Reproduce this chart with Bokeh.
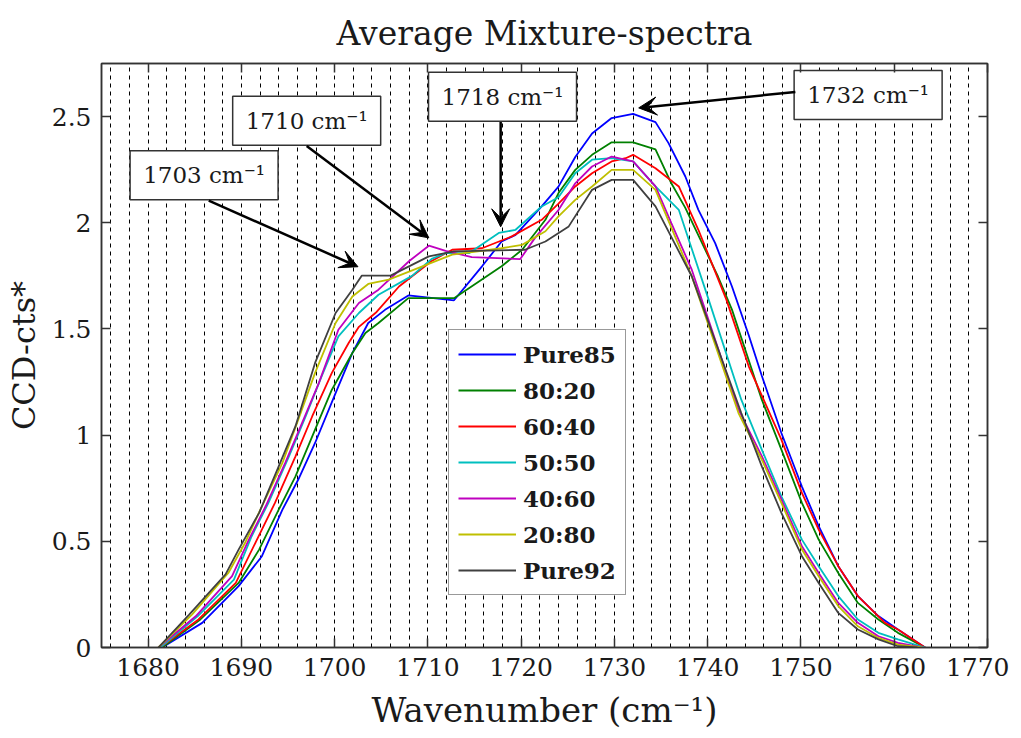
from bokeh.plotting import figure
from bokeh.models import (Range1d, LinearAxis, FixedTicker, Legend, LegendItem,
                          Arrow, VeeHead, NumeralTickFormatter, ColumnDataSource,
                          CustomJSTickFormatter)
from bokeh.embed import file_html
from bokeh.resources import INLINE
from bokeh.core.properties import value

# ---------------- data ----------------
series_names = ["Pure85", "80:20", "60:40", "50:50", "40:60", "20:80", "Pure92"]
series_colors = ["#0000FF", "#008000", "#FF0000", "#00BFBF", "#BF00BF", "#BFBF00", "#404040"]

x_pure85 = [1681.5, 1685.8, 1689.7, 1692.2, 1694.4, 1696.1, 1697.9, 1700.1, 1701.9, 1703.6,
            1705.4, 1707.9, 1712.8, 1715.8, 1717.9, 1719.4, 1722.2, 1724.0, 1725.8, 1727.6,
            1729.7, 1732.0, 1734.4, 1735.8, 1737.6, 1739.0, 1740.8, 1742.6, 1744.4, 1745.8,
            1747.9, 1750.1, 1751.9, 1754.0, 1756.1, 1758.3, 1760.4, 1763.3]
y_pure85 = [0, 0.116, 0.289, 0.430, 0.649, 0.791, 0.963, 1.198, 1.387, 1.528,
            1.59, 1.658, 1.635, 1.795, 1.912, 1.943, 2.077, 2.17, 2.31, 2.42,
            2.493, 2.513, 2.474, 2.375, 2.218, 2.061, 1.904, 1.70, 1.47, 1.28,
            1.01, 0.758, 0.571, 0.383, 0.242, 0.148, 0.085, 0]

x_8020 = [1681.5, 1685.6, 1689.7, 1691.9, 1694.0, 1695.8, 1697.9, 1699.7, 1701.9, 1703.3,
          1704.7, 1707.9, 1712.8, 1717.9, 1720.1, 1722.6, 1724.0, 1725.8, 1727.6, 1729.7,
          1732.0, 1734.4, 1736.1, 1737.6, 1741.1, 1742.6, 1745.8, 1747.9, 1750.1, 1751.9,
          1754.0, 1756.1, 1758.3, 1760.4, 1763.3]
y_8020 = [0, 0.132, 0.304, 0.461, 0.649, 0.806, 1.026, 1.214, 1.387, 1.481,
          1.528, 1.645, 1.645, 1.795, 1.873, 2.014, 2.14, 2.249, 2.32, 2.379,
          2.379, 2.346, 2.186, 2.07, 1.747, 1.591, 1.167, 0.932, 0.681, 0.508,
          0.351, 0.210, 0.132, 0.069, 0]

x_6040 = [1681.3, 1685.4, 1689.4, 1691.5, 1693.6, 1695.8, 1697.6, 1699.7, 1701.5, 1702.6,
          1704.5, 1706.9, 1710.4, 1712.6, 1715.8, 1719.0, 1722.2, 1724.0, 1725.8, 1727.6,
          1729.7, 1731.2, 1732.0, 1734.4, 1736.9, 1739.0, 1742.0, 1744.4, 1747.9, 1750.1,
          1751.9, 1754.0, 1756.1, 1759.0, 1760.4, 1763.3]
y_6040 = [0, 0.132, 0.304, 0.493, 0.681, 0.900, 1.089, 1.293, 1.434, 1.51,
          1.58, 1.70, 1.82, 1.873, 1.88, 1.936, 2.014, 2.09, 2.171, 2.233,
          2.289, 2.304, 2.320, 2.257, 2.171, 1.967, 1.638, 1.324, 0.979, 0.728,
          0.555, 0.383, 0.242, 0.116, 0.085, 0]

x_5050 = [1681.3, 1685.3, 1689.2, 1691.1, 1692.9, 1695.1, 1696.9, 1698.6, 1700.4, 1702.6,
          1704.7, 1708.3, 1710.4, 1711.9, 1714.4, 1717.6, 1719.4, 1722.2, 1724.0, 1725.8,
          1727.6, 1729.7, 1732.0, 1734.4, 1736.9, 1740.1, 1743.6, 1745.8, 1747.9, 1750.1,
          1751.9, 1754.0, 1756.1, 1758.3, 1760.4, 1763.3]
y_5050 = [0, 0.147, 0.320, 0.524, 0.681, 0.900, 1.089, 1.277, 1.465, 1.575,
          1.661, 1.75, 1.83, 1.857, 1.857, 1.952, 1.967, 2.077, 2.12, 2.233,
          2.297, 2.304, 2.289, 2.171, 2.061, 1.638, 1.167, 0.932, 0.712, 0.508,
          0.383, 0.242, 0.132, 0.069, 0.038, 0]

x_4060 = [1681.1, 1685.1, 1689.0, 1690.8, 1692.6, 1694.7, 1696.5, 1698.3, 1700.4, 1702.6,
          1704.7, 1708.0, 1710.1, 1711.9, 1714.7, 1719.9, 1721.5, 1724.0, 1725.8, 1727.6,
          1729.7, 1732.0, 1734.4, 1736.1, 1738.3, 1743.3, 1745.8, 1747.9, 1750.1, 1751.9,
          1754.0, 1756.1, 1758.3, 1760.4, 1763.0]
y_4060 = [0, 0.147, 0.336, 0.508, 0.665, 0.869, 1.057, 1.245, 1.496, 1.622,
          1.685, 1.82, 1.892, 1.868, 1.838, 1.829, 1.93, 2.06, 2.186, 2.265,
          2.312, 2.289, 2.171, 1.998, 1.778, 1.120, 0.901, 0.697, 0.477, 0.351,
          0.210, 0.116, 0.053, 0.022, 0]

x_2080 = [1681.1, 1684.7, 1688.6, 1690.4, 1692.2, 1694.4, 1696.1, 1697.9, 1700.1, 1701.9,
          1703.6, 1705.8, 1712.6, 1717.9, 1720.1, 1722.6, 1724.0, 1725.8, 1727.6, 1729.7,
          1732.0, 1734.4, 1738.3, 1743.3, 1745.8, 1747.9, 1750.1, 1751.9, 1754.0, 1756.1,
          1758.3, 1760.4, 1763.0]
y_2080 = [0, 0.155, 0.351, 0.493, 0.665, 0.869, 1.073, 1.293, 1.528, 1.653,
          1.712, 1.732, 1.85, 1.88, 1.896, 1.96, 2.03, 2.108, 2.171, 2.249,
          2.249, 2.155, 1.747, 1.104, 0.885, 0.681, 0.461, 0.336, 0.195, 0.100,
          0.045, 0.014, 0]

x_pure92 = [1681.1, 1684.4, 1688.3, 1689.7, 1691.9, 1694.0, 1695.8, 1697.9, 1700.1, 1701.9,
            1702.9, 1706.0, 1710.1, 1712.8, 1720.4, 1722.6, 1725.1, 1727.6, 1729.7, 1732.0,
            1734.4, 1738.3, 1743.6, 1745.8, 1747.9, 1750.1, 1751.9, 1754.0, 1756.1, 1758.3,
            1760.4, 1762.5]
y_pure92 = [0, 0.155, 0.344, 0.461, 0.634, 0.853, 1.042, 1.340, 1.575, 1.685,
            1.751, 1.751, 1.842, 1.865, 1.873, 1.912, 1.983, 2.155, 2.202, 2.202,
            2.077, 1.747, 1.104, 0.853, 0.634, 0.430, 0.304, 0.163, 0.085, 0.038,
            0.006, 0]

series_x = [x_pure85, x_8020, x_6040, x_5050, x_4060, x_2080, x_pure92]
series_y = [y_pure85, y_8020, y_6040, y_5050, y_4060, y_2080, y_pure92]

# annotations: label, arrow tip (data), arrow start (data), box centre (data)
ann_text = ["1703 cm\u207b\u00b9", "1710 cm\u207b\u00b9", "1718 cm\u207b\u00b9", "1732 cm\u207b\u00b9"]
ann_tip_x = [1702.5, 1710.1, 1717.8, 1732.6]
ann_tip_y = [1.793, 1.929, 1.981, 2.541]
ann_start_x = [1686.5, 1697.0, 1717.8, 1749.4]
ann_start_y = [2.104, 2.362, 2.475, 2.616]
ann_box_x = [1686.0, 1697.0, 1718.0, 1757.2]
ann_box_y = [2.224, 2.480, 2.593, 2.602]

x_ticks = list(range(1680, 1771, 10))
y_ticks = [0, 0.5, 1, 1.5, 2, 2.5]

# ---------------- figure ----------------
SERIF = "DejaVu Serif"
TXT = "#1a1a1a"

p = figure(frame_width=886, frame_height=584,
           x_range=Range1d(1675, 1770), y_range=Range1d(0, 2.75),
           output_backend="svg", toolbar_location=None,
           min_border_left=101, min_border_right=22, min_border_top=63, min_border_bottom=82)
p.background_fill_color = "white"
p.border_fill_color = "white"
p.outline_line_color = "#333333"
p.outline_line_width = 1.5

p.title.text = "Average Mixture-spectra"
p.title.align = "center"
p.title.text_font = SERIF
p.title.text_font_style = "normal"
p.title.text_font_size = "33px"
p.title.text_color = TXT
p.title.standoff = 22

# grid: dashed verticals every 2 cm-1
p.xgrid.ticker = FixedTicker(ticks=list(range(1676, 1769, 2)))
p.xgrid.grid_line_color = "black"
p.xgrid.grid_line_dash = "4 4"
p.xgrid.grid_line_width = 1
p.xgrid.grid_line_alpha = 1
p.ygrid.grid_line_color = None

def style_axis(ax, labels=True):
    ax.major_tick_in = 9
    ax.major_tick_out = 0
    ax.minor_tick_line_color = None
    ax.axis_line_color = "#333333"
    ax.axis_line_width = 1.5
    ax.major_tick_line_color = "#333333"
    ax.major_tick_line_width = 1.5
    ax.major_label_text_font = SERIF
    ax.major_label_text_font_size = "25px"
    ax.major_label_text_color = TXT
    ax.major_label_standoff = 10 if labels else 0

p.xaxis.ticker = FixedTicker(ticks=x_ticks)
p.yaxis.ticker = FixedTicker(ticks=y_ticks)
p.yaxis.formatter = NumeralTickFormatter(format="0.[0]")
style_axis(p.xaxis[0])
style_axis(p.yaxis[0])
p.xaxis.axis_label = "Wavenumber (cm\u207b\u00b9)"
p.yaxis.axis_label = "CCD-cts*"
for ax in (p.xaxis[0], p.yaxis[0]):
    ax.axis_label_text_font = SERIF
    ax.axis_label_text_font_style = "normal"
    ax.axis_label_text_color = TXT
p.xaxis.axis_label_text_font_size = "34px"
p.yaxis.axis_label_text_font_size = "32px"
p.xaxis.axis_label_standoff = 11
p.yaxis.axis_label_standoff = 6

blank = CustomJSTickFormatter(code="return ''")
top_ax = LinearAxis(ticker=FixedTicker(ticks=x_ticks), formatter=blank)
style_axis(top_ax, labels=False)
p.add_layout(top_ax, "above")
right_ax = LinearAxis(ticker=FixedTicker(ticks=y_ticks), formatter=blank)
style_axis(right_ax, labels=False)
p.add_layout(right_ax, "right")

# ---------------- curves ----------------
items = []
for name, col, xs, ys in zip(series_names, series_colors, series_x, series_y):
    r = p.line(xs, ys, line_color=col, line_width=1.8)
    items.append(LegendItem(label=name, renderers=[r]))

# ---------------- annotation boxes & arrows ----------------
for tx, ty, sx, sy in zip(ann_tip_x, ann_tip_y, ann_start_x, ann_start_y):
    p.add_layout(Arrow(end=VeeHead(size=18, fill_color="black", line_color="black"),
                       x_start=sx, y_start=sy, x_end=tx, y_end=ty,
                       line_color="black", line_width=2.5))

box_src = ColumnDataSource(dict(x=ann_box_x, y=ann_box_y, t=ann_text))
p.rect(x="x", y="y", width=148, height=49, width_units="screen", height_units="screen",
       source=box_src, fill_color="white", line_color="#333333", line_width=1.5)
p.text(x="x", y="y", text="t", source=box_src, text_align="center", text_baseline="middle",
       text_font=value(SERIF), text_font_size="23px", text_color=TXT)

legend = Legend(items=items, location=(347, 52))
legend.label_text_font = SERIF
legend.label_text_font_style = "bold"
legend.label_text_font_size = "23px"
legend.label_text_color = TXT
legend.glyph_width = 58
legend.glyph_height = 30
legend.label_height = 30
legend.label_standoff = 7
legend.spacing = 6
legend.padding = 9
legend.margin = 0
legend.border_line_color = "#333333"
legend.border_line_width = 1.5
legend.background_fill_alpha = 1
p.add_layout(legend)

open("out.html", "w").write(file_html(p, INLINE))
